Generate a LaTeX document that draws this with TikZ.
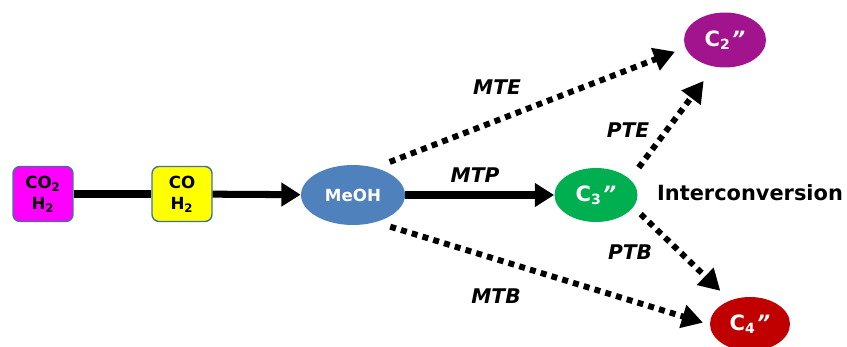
\documentclass[tikz,border=0pt]{standalone}
\usepackage{fontspec}
\setmainfont{DejaVu Sans}
\usepackage{tikz}
\usetikzlibrary{arrows.meta, shapes.geometric}

\definecolor{feedmagenta}{HTML}{FF00FF}
\definecolor{feedyellow}{HTML}{FFFF00}
\definecolor{feededge}{HTML}{41719C}
\definecolor{meohblue}{HTML}{4F81BD}
\definecolor{cthree}{HTML}{00B050}
\definecolor{ctwo}{HTML}{A2138E}
\definecolor{cfour}{HTML}{C00000}

\newcommand{\olefinmark}{\kern0.5pt\textit{”}}

\tikzset{
  feedbox/.style={draw=feededge, line width=0.8pt, rounded corners=4pt, align=center,
                  font=\fontsize{9.5}{12}\selectfont\bfseries,
                  minimum width=1.2cm, minimum height=1.1cm, inner sep=1pt},
  olefin/.style={ellipse, text=white, font=\fontsize{12}{14}\selectfont\bfseries,
                 minimum width=1.64cm, minimum height=1.1cm, inner sep=0pt},
  mainarrow/.style={line width=4pt, -{Triangle[length=11pt, width=13pt]}},
  mainline/.style={line width=4pt},
  routearrow/.style={line width=3.4pt, dash pattern=on 3.4pt off 3pt,
                     -{Triangle[length=12pt, width=13pt]}},
  routelabel/.style={font=\fontsize{11.5}{13}\selectfont\bfseries\itshape},
}

\begin{document}
\begin{tikzpicture}[x=0.02cm, y=-0.02cm]
\useasboundingbox (0,0) rectangle (847,347);

% Feed boxes
\node[feedbox, fill=feedmagenta] (co2) at (43,194) {CO\textsubscript{2}\\H\textsubscript{2}};
\node[feedbox, fill=feedyellow] (co) at (182,194) {CO\\H\textsubscript{2}};

% Methanol
\node[ellipse, fill=meohblue, text=white, font=\fontsize{9.5}{11}\selectfont\bfseries,
      minimum width=2.08cm, minimum height=1.2cm, inner sep=0pt] (meoh) at (353,195) {MeOH};

% Olefins
\node[olefin, fill=cthree, minimum width=1.66cm, minimum height=1.08cm] (c3) at (596,195) {C\textsubscript{3}\olefinmark};
\node[olefin, fill=ctwo] (c2) at (725,40) {C\textsubscript{2}\olefinmark};
\node[olefin, fill=cfour, minimum width=1.6cm, minimum height=1.08cm] (c4) at (750,324) {C\textsubscript{4}\olefinmark};

% Arrows - main flow
\draw[mainline] (co2) -- (co);
\draw[mainarrow] (co) -- (meoh);
\draw[mainarrow] (meoh) -- (c3);

% Arrows - dotted routes
\draw[routearrow, shorten <=0.31cm, shorten >=0.22cm] (meoh.51) -- (c2.191);
\draw[routearrow, shorten <=0.30cm, shorten >=0.14cm] (meoh.-50) -- (c4.181);
\draw[routearrow, shorten <=0.29cm, shorten >=0.35cm] (c3.25) -- (c2.248);
\draw[routearrow, shorten <=0.20cm, shorten >=0.27cm] (c3.-18) -- (c4.130);

% Labels
\node[routelabel] (mte) at (497,87) {MTE};
\node[routelabel] (mtp) at (475,175) {MTP};
\node[routelabel] (mtb) at (496,296) {MTB};
\node[routelabel] (pte) at (628,130) {PTE};
\node[routelabel] (ptb) at (630,252) {PTB};
\node[font=\fontsize{11.9}{14}\selectfont\bfseries] (inter) at (750,193) {Interconversion};

\end{tikzpicture}
\end{document}
